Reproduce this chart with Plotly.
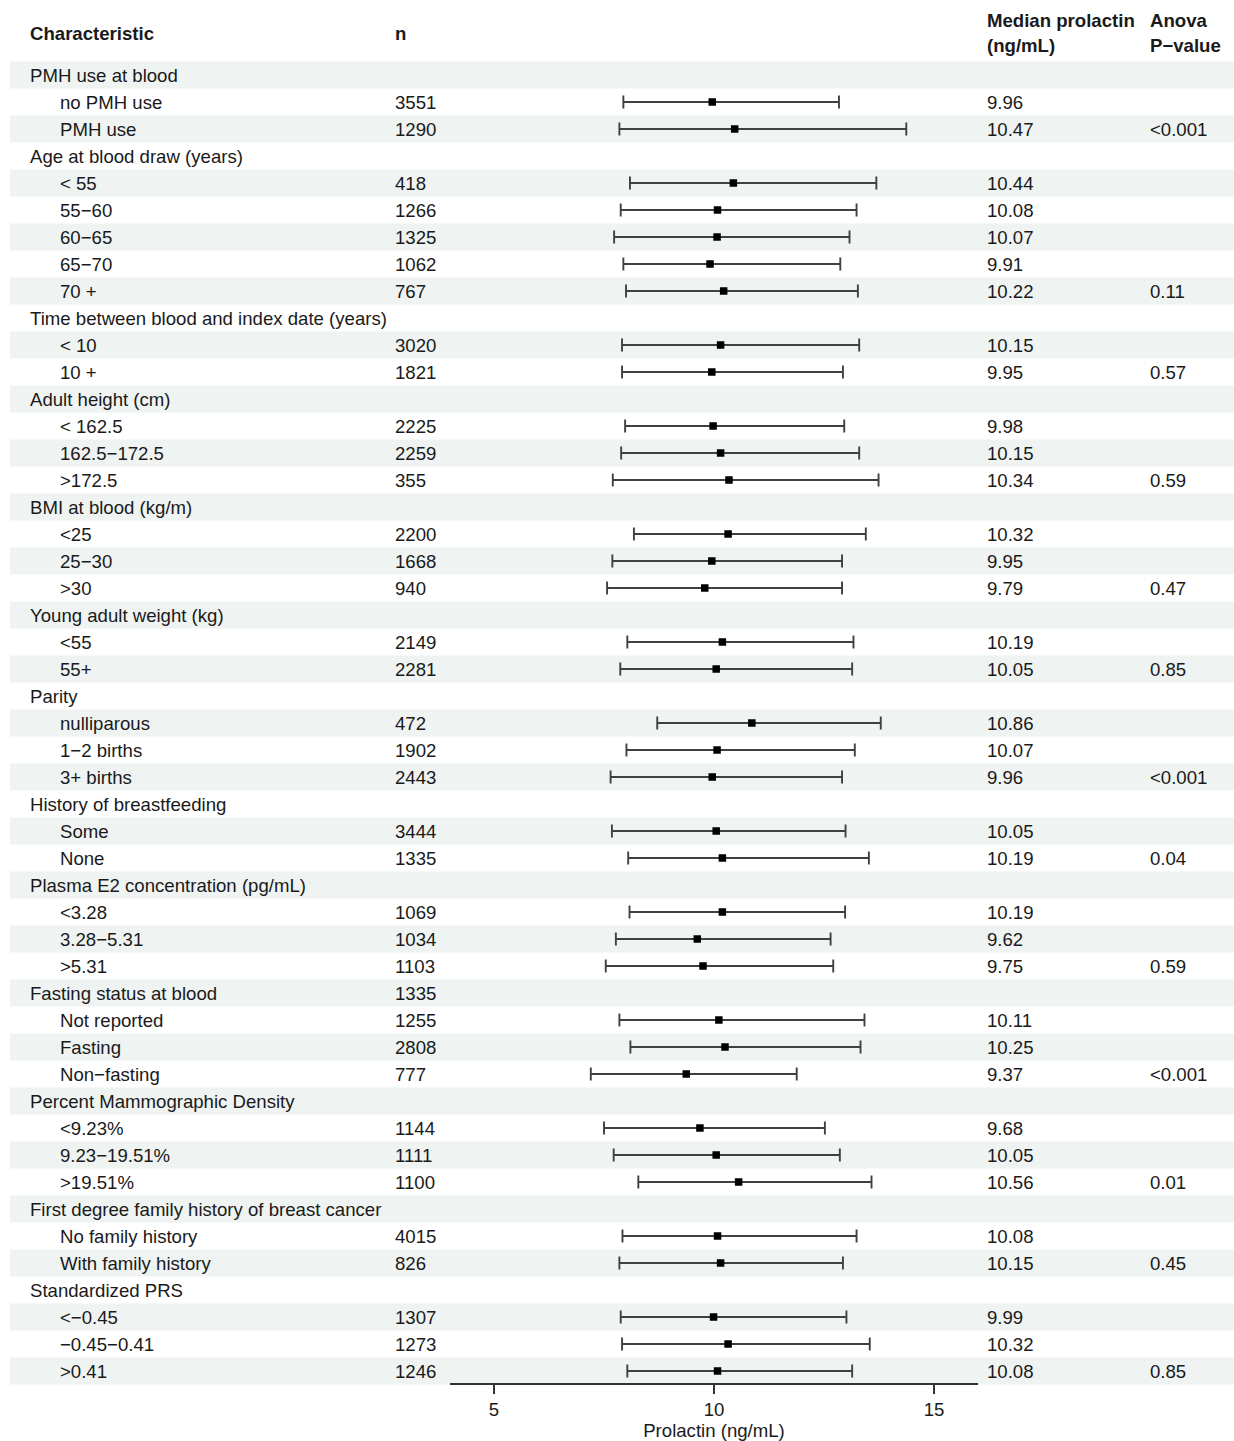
import plotly.graph_objects as go

# ---- table content -------------------------------------------------------
labels = [
    "PMH use at blood", "no PMH use", "PMH use",
    "Age at blood draw (years)", "< 55", "55\u221260", "60\u221265", "65\u221270", "70 +",
    "Time between blood and index date (years)", "< 10", "10 +",
    "Adult height (cm)", "< 162.5", "162.5\u2212172.5", ">172.5",
    "BMI at blood (kg/m)", "<25", "25\u221230", ">30",
    "Young adult weight (kg)", "<55", "55+",
    "Parity", "nulliparous", "1\u22122 births", "3+ births",
    "History of breastfeeding", "Some", "None",
    "Plasma E2 concentration (pg/mL)", "<3.28", "3.28\u22125.31", ">5.31",
    "Fasting status at blood", "Not reported", "Fasting", "Non\u2212fasting",
    "Percent Mammographic Density", "<9.23%", "9.23\u221219.51%", ">19.51%",
    "First degree family history of breast cancer", "No family history", "With family history",
    "Standardized PRS", "<\u22120.45", "\u22120.45\u22120.41", ">0.41",
]

n_text = [
    "", "3551", "1290",
    "", "418", "1266", "1325", "1062", "767",
    "", "3020", "1821",
    "", "2225", "2259", "355",
    "", "2200", "1668", "940",
    "", "2149", "2281",
    "", "472", "1902", "2443",
    "", "3444", "1335",
    "", "1069", "1034", "1103",
    "1335", "1255", "2808", "777",
    "", "1144", "1111", "1100",
    "", "4015", "826",
    "", "1307", "1273", "1246",
]

# median prolactin (ng/mL); None marks a group heading
median = [
    None, 9.96, 10.47,
    None, 10.44, 10.08, 10.07, 9.91, 10.22,
    None, 10.15, 9.95,
    None, 9.98, 10.15, 10.34,
    None, 10.32, 9.95, 9.79,
    None, 10.19, 10.05,
    None, 10.86, 10.07, 9.96,
    None, 10.05, 10.19,
    None, 10.19, 9.62, 9.75,
    None, 10.11, 10.25, 9.37,
    None, 9.68, 10.05, 10.56,
    None, 10.08, 10.15,
    None, 9.99, 10.32, 10.08,
]

lower = [
    None, 7.94, 7.85,
    None, 8.09, 7.88, 7.73, 7.94, 8.00,
    None, 7.91, 7.91,
    None, 7.98, 7.89, 7.70,
    None, 8.18, 7.69, 7.57,
    None, 8.03, 7.87,
    None, 8.71, 8.01, 7.65,
    None, 7.68, 8.05,
    None, 8.08, 7.77, 7.54,
    None, 7.85, 8.10, 7.20,
    None, 7.50, 7.72, 8.28,
    None, 7.92, 7.85,
    None, 7.88, 7.91, 8.03,
]

upper = [
    None, 12.84, 14.37,
    None, 13.69, 13.24, 13.08, 12.87, 13.27,
    None, 13.30, 12.93,
    None, 12.96, 13.30, 13.74,
    None, 13.45, 12.91, 12.91,
    None, 13.17, 13.14,
    None, 13.79, 13.20, 12.91,
    None, 12.99, 13.52,
    None, 12.98, 12.65, 12.71,
    None, 13.42, 13.33, 11.88,
    None, 12.52, 12.86, 13.58,
    None, 13.24, 12.93,
    None, 13.01, 13.54, 13.14,
]

p_value = [
    "", "", "<0.001",
    "", "", "", "", "", "0.11",
    "", "", "0.57",
    "", "", "", "0.59",
    "", "", "", "0.47",
    "", "", "0.85",
    "", "", "", "<0.001",
    "", "", "0.04",
    "", "", "", "0.59",
    "", "", "", "<0.001",
    "", "", "", "0.01",
    "", "", "0.45",
    "", "", "", "0.85",
]

x_ticks = [5, 10, 15]
x_range = [4, 16]

# ---- layout constants (pixels) -------------------------------------------
W, H = 1234, 1441
ROW_H = 27
FIRST_ROW_Y = 75
axis_px = (450, 978)
axis_line_y = 1384
col_label, col_indent, col_n, col_med, col_p = 28, 58, 393, 985, 1148
band_left = 10
FONT = "Liberation Sans, Arial, Helvetica, sans-serif"
FSIZE = 18.6
TXT = "#1a1a1a"
BAND = "#eff3f2"

rows = list(range(1, len(labels) + 1))


def px_to_row(py):
    return (py - (FIRST_ROW_Y - ROW_H)) / ROW_H


y_top, y_bot = px_to_row(0), px_to_row(H)

fig = go.Figure()

# alternating row shading
for r in rows:
    if r % 2 == 1:
        fig.add_shape(type="rect", xref="paper", yref="y",
                      x0=band_left / W, x1=1, y0=r - 0.5, y1=r + 0.5,
                      fillcolor=BAND, line_width=0, layer="below")

# confidence intervals and medians
pts = [(r, m, lo, hi) for r, m, lo, hi in zip(rows, median, lower, upper) if m is not None]
fig.add_trace(go.Scatter(
    x=[p[1] for p in pts], y=[p[0] for p in pts],
    mode="markers",
    marker=dict(symbol="square", size=7.5, color="black"),
    error_x=dict(type="data", symmetric=False,
                 array=[p[3] - p[1] for p in pts],
                 arrayminus=[p[1] - p[2] for p in pts],
                 color="#404040", thickness=1.9, width=6.5),
    xaxis="x", yaxis="y", hoverinfo="skip", showlegend=False,
))

# table text
anns = []


def add_text(xpx, row_val, text, bold=False):
    anns.append(dict(
        x=xpx / W, y=row_val, xref="paper", yref="y",
        text=f"<b>{text}</b>" if bold else text,
        showarrow=False, xanchor="left", yanchor="middle",
        font=dict(family=FONT, size=FSIZE, color=TXT),
    ))


add_text(col_label, px_to_row(33), "Characteristic", bold=True)
add_text(col_n, px_to_row(33), "n", bold=True)
add_text(col_med, px_to_row(20), "Median prolactin", bold=True)
add_text(col_med, px_to_row(45), "(ng/mL)", bold=True)
add_text(col_p, px_to_row(20), "Anova", bold=True)
add_text(col_p, px_to_row(45), "P\u2212value", bold=True)

text_shift = 0.03  # nudge row text slightly down within its band
for r, lab, n, m, p in zip(rows, labels, n_text, median, p_value):
    yv = r + text_shift
    add_text(col_label if m is None else col_indent, yv, lab)
    if n:
        add_text(col_n, yv, n)
    if m is not None:
        add_text(col_med, yv, f"{m:.2f}")
    if p:
        add_text(col_p, yv, p)

fig.update_layout(
    width=W, height=H, autosize=False,
    margin=dict(l=0, r=0, t=0, b=0),
    paper_bgcolor="white", plot_bgcolor="rgba(0,0,0,0)",
    annotations=anns,
    xaxis=dict(
        domain=[axis_px[0] / W, axis_px[1] / W], range=x_range,
        anchor="free", position=1 - axis_line_y / H,
        tickvals=x_ticks, ticks="outside", ticklen=9, tickwidth=1.6, tickcolor="#333333",
        showline=True, linecolor="#333333", linewidth=1.6,
        showgrid=False, zeroline=False,
        tickfont=dict(family=FONT, size=FSIZE, color=TXT),
        title=dict(text="Prolactin (ng/mL)", standoff=4,
                   font=dict(family=FONT, size=FSIZE, color=TXT)),
        automargin=False,
    ),
    yaxis=dict(
        domain=[0, 1], range=[y_bot, y_top], visible=False,
        showgrid=False, zeroline=False,
    ),
    showlegend=False,
)

fig.write_html("out.html")
